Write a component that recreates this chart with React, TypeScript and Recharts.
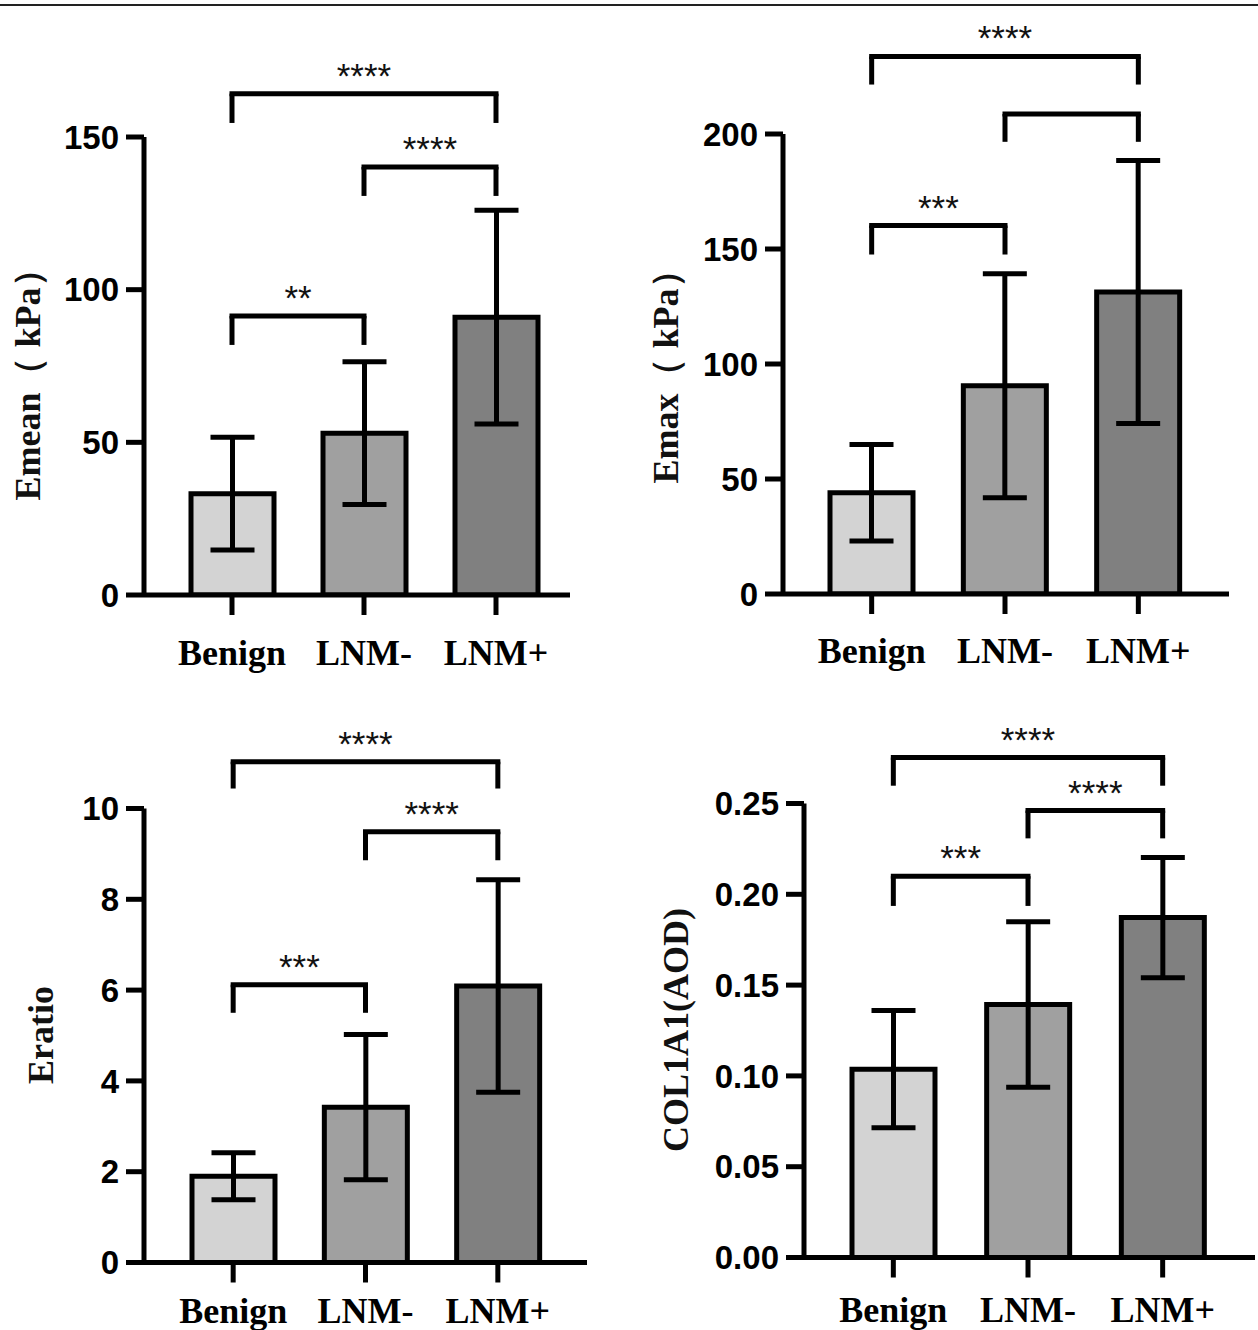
import React from 'react';
import { BarChart, Bar, XAxis, YAxis, ErrorBar, Cell, ReferenceLine } from 'recharts';

const SANS = '"Liberation Sans", Arial, sans-serif';
const SERIF = '"Liberation Serif", "Times New Roman", serif';

// ---- data ----
const categories = ['Benign', 'LNM-', 'LNM+'];
const barFills = ['#d3d3d3', '#a0a0a0', '#808080'];

const emeanMean = [33.2, 53, 91];
const emeanSd = [18.5, 23.4, 35];
const emeanTicks = [0, 50, 100, 150];
const emeanBrackets = [
  { from: 'Benign', to: 'LNM+', y: 164.2, leg: 154.6, label: '****' },
  { from: 'LNM-', to: 'LNM+', y: 140.2, leg: 130.7, label: '****' },
  { from: 'Benign', to: 'LNM-', y: 91.4, leg: 81.9, label: '**' },
];

const emaxMean = [44, 90.5, 131.3];
const emaxSd = [21, 48.7, 57.2];
const emaxTicks = [0, 50, 100, 150, 200];
const emaxBrackets = [
  { from: 'Benign', to: 'LNM+', y: 233.7, leg: 221.5, label: '****' },
  { from: 'LNM-', to: 'LNM+', y: 208.7, leg: 196.6, label: '' },
  { from: 'Benign', to: 'LNM-', y: 160.2, leg: 147.6, label: '***' },
];

const eratioMean = [1.9, 3.42, 6.09];
const eratioSd = [0.52, 1.6, 2.34];
const eratioTicks = [0, 2, 4, 6, 8, 10];
const eratioBrackets = [
  { from: 'Benign', to: 'LNM+', y: 11.03, leg: 10.44, label: '****' },
  { from: 'LNM-', to: 'LNM+', y: 9.49, leg: 8.86, label: '****' },
  { from: 'Benign', to: 'LNM-', y: 6.12, leg: 5.5, label: '***' },
];

const col1a1Mean = [0.1037, 0.1393, 0.1872];
const col1a1Sd = [0.0323, 0.0456, 0.0331];
const col1a1Ticks = [0, 0.05, 0.1, 0.15, 0.2, 0.25];
const col1a1Brackets = [
  { from: 'Benign', to: 'LNM+', y: 0.2753, leg: 0.2598, label: '****' },
  { from: 'LNM-', to: 'LNM+', y: 0.2461, leg: 0.2308, label: '****' },
  { from: 'Benign', to: 'LNM-', y: 0.21, leg: 0.1936, label: '***' },
];

type Bracket = { from: string; to: string; y: number; leg: number; label: string };
type Layout = {
  left: number; top: number; width: number; height: number;
  yAxisX: number; plotTop: number; plotBottom: number; plotRight: number;
  padL: number; padR: number; xTickMargin: number; titleX: number; titleY: number;
};
type Cfg = {
  means: number[]; sds: number[]; ticks: number[]; brackets: Bracket[];
  title: string; fmt: (v: number) => string; layout: Layout;
};

const panels: Cfg[] = [
  {
    means: emeanMean, sds: emeanSd, ticks: emeanTicks, brackets: emeanBrackets,
    title: 'Emean（ kPa）', fmt: (v) => String(v),
    layout: { left: 0, top: 0, width: 629, height: 680, yAxisX: 144, plotTop: 137, plotBottom: 595, plotRight: 570, padL: 22, padR: 8, xTickMargin: 24, titleX: 40, titleY: 376 },
  },
  {
    means: emaxMean, sds: emaxSd, ticks: emaxTicks, brackets: emaxBrackets,
    title: 'Emax（ kPa）', fmt: (v) => String(v),
    layout: { left: 629, top: 0, width: 629, height: 680, yAxisX: 154, plotTop: 134, plotBottom: 594, plotRight: 600, padL: 22, padR: 24, xTickMargin: 23, titleX: 49, titleY: 368 },
  },
  {
    means: eratioMean, sds: eratioSd, ticks: eratioTicks, brackets: eratioBrackets,
    title: 'Eratio', fmt: (v) => String(v),
    layout: { left: 0, top: 680, width: 629, height: 650, yAxisX: 144, plotTop: 128.5, plotBottom: 582.5, plotRight: 587, padL: 23, padR: 23, xTickMargin: 15, titleX: 53, titleY: 355 },
  },
  {
    means: col1a1Mean, sds: col1a1Sd, ticks: col1a1Ticks, brackets: col1a1Brackets,
    title: 'COL1A1(AOD)', fmt: (v) => v.toFixed(2),
    layout: { left: 629, top: 680, width: 629, height: 650, yAxisX: 175, plotTop: 123.5, plotBottom: 577.5, plotRight: 626, padL: 22, padR: 25, xTickMargin: 19, titleX: 59, titleY: 350 },
  },
];

function Panel({ cfg }: { cfg: Cfg }) {
  const L = cfg.layout;
  const data = categories.map((c, i) => ({ name: c, mean: cfg.means[i], sd: cfg.sds[i] }));
  const maxTick = cfg.ticks[cfg.ticks.length - 1];
  const lines: React.ReactNode[] = [];
  cfg.brackets.forEach((b, i) => {
    lines.push(
      <ReferenceLine
        key={`h${i}`}
        segment={[{ x: b.from, y: b.y }, { x: b.to, y: b.y }]}
        stroke="#000"
        strokeWidth={5}
        strokeLinecap="square"
        ifOverflow="visible"
        label={b.label ? { value: b.label, position: 'top', offset: 6, fill: '#111', fontSize: 35, fontFamily: SANS } : undefined}
      />
    );
    lines.push(
      <ReferenceLine key={`l${i}`} segment={[{ x: b.from, y: b.y }, { x: b.from, y: b.leg }]} stroke="#000" strokeWidth={5} ifOverflow="visible" />
    );
    lines.push(
      <ReferenceLine key={`r${i}`} segment={[{ x: b.to, y: b.y }, { x: b.to, y: b.leg }]} stroke="#000" strokeWidth={5} ifOverflow="visible" />
    );
  });
  const title = () => (
    <text
      x={L.titleX}
      y={L.titleY}
      transform={`rotate(-90 ${L.titleX} ${L.titleY})`}
      textAnchor="middle"
      fontFamily={SERIF}
      fontWeight="bold"
      fontSize={36}
      fill="#111"
    >
      {cfg.title}
    </text>
  );
  return (
    <div style={{ position: 'absolute', left: L.left, top: L.top, width: L.width, height: L.height }}>
      <BarChart
        width={L.width}
        height={L.height}
        data={data}
        margin={{ top: L.plotTop, right: L.width - L.plotRight, bottom: 0, left: 0 }}
      >
        <XAxis
          dataKey="name"
          height={L.height - L.plotBottom}
          padding={{ left: L.padL, right: L.padR }}
          axisLine={{ stroke: '#000', strokeWidth: 5 }}
          tickLine={{ stroke: '#000', strokeWidth: 5 }}
          tickSize={20}
          tickMargin={L.xTickMargin}
          interval={0}
          tick={{ fill: '#000', fontSize: 36, fontFamily: SERIF, fontWeight: 'bold' }}
        />
        <YAxis
          width={L.yAxisX}
          domain={[0, maxTick]}
          ticks={cfg.ticks}
          allowDataOverflow
          axisLine={{ stroke: '#000', strokeWidth: 5 }}
          tickLine={{ stroke: '#000', strokeWidth: 5 }}
          tickSize={18}
          tickMargin={7}
          tickFormatter={cfg.fmt}
          tick={{ fill: '#000', fontSize: 33, fontFamily: SANS, fontWeight: 'bold' }}
          label={title}
        />
        <Bar dataKey="mean" barSize={83} stroke="#000" strokeWidth={5} isAnimationActive={false}>
          {data.map((d, i) => (
            <Cell key={d.name} fill={barFills[i]} />
          ))}
          <ErrorBar dataKey="sd" width={22} strokeWidth={5} stroke="#000" direction="y" isAnimationActive={false} />
        </Bar>
        {lines}
      </BarChart>
    </div>
  );
}

export default function App() {
  return (
    <div style={{ position: 'absolute', left: 0, top: 0, width: 1258, height: 1330, background: '#fff', overflow: 'hidden' }}>
      <div style={{ position: 'absolute', left: 0, top: 4, width: 1258, height: 2, background: '#222' }} />
      {panels.map((p, i) => (
        <Panel key={i} cfg={p} />
      ))}
    </div>
  );
}
